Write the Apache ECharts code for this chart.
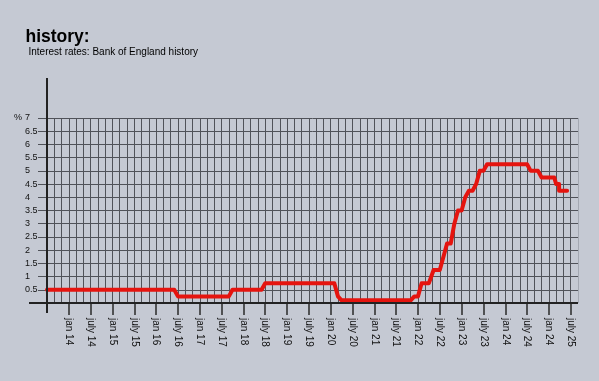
<!DOCTYPE html>
<html>
<head>
<meta charset="utf-8">
<script src="https://cdn.jsdelivr.net/npm/echarts@6/dist/echarts.min.js"></script>
<style>
html,body{margin:0;padding:0;background:#c5c9d3;}
#chart{width:599px;height:381px;}
</style>
</head>
<body>
<div id="chart"></div>
<script>
// Bank of England rate: dates where the plotted line bends, and the rate there (%)
const rateDates = ['2013-07-01','2016-06-01','2016-07-01','2017-09-01','2017-10-01','2018-06-01','2018-07-01',
  '2020-02-01','2020-03-01','2020-04-01','2021-11-01','2021-12-01','2022-01-01','2022-02-01','2022-04-01',
  '2022-05-10','2022-07-01','2022-08-01','2022-09-01','2022-10-01','2022-11-01','2022-12-01','2023-01-01',
  '2023-02-01','2023-03-01','2023-04-01','2023-05-01','2023-06-01','2023-07-01','2023-08-01','2024-07-01',
  '2024-08-01','2024-10-01','2024-11-01','2025-02-15','2025-03-01','2025-03-25','2025-03-25','2025-06-01'];
const rateValues = [0.5,0.5,0.25,0.25,0.5,0.5,0.75,
  0.75,0.25,0.1,0.1,0.25,0.25,0.75,0.75,
  1.25,1.25,1.75,2.25,2.25,3.0,3.5,3.5,
  4.0,4.25,4.25,4.5,5.0,5.0,5.25,5.25,
  5.0,5.0,4.75,4.75,4.5,4.5,4.25,4.25];

// x tick labels every six months starting jan 14 (as printed in the original)
const xTickLabels = ['jan 14','july 14','jan 15','july 15','jan 16','july 16','jan 17','july 17','jan 18','july 18',
  'jan 19','july 19','jan 20','july 20','jan 21','july 21','jan 22','july 22','jan 23','july 23','jan 24','july 24',
  'jan 24','july 25'];
const yTickLabels = ['0.5','1','1.5','2','2.5','3','3.5','4','4.5','5','5.5','6','6.5','7'];
const yUnit = '%';

const titleText = 'history:';
const subtitleText = 'Interest rates: Bank of England history';

// months since July 2013
function monthIndex(d) {
  const p = d.split('-').map(Number);
  return (p[0] - 2013) * 12 + (p[1] - 7) + (p[2] - 1) / 30;
}
const seriesData = rateDates.map((d, i) => [monthIndex(d), rateValues[i]]);
const xMax = 146; // Sept 2025
const tickVals = xTickLabels.map((_, i) => 6 * (i + 1));

const FONT = 'Liberation Sans, Arial, sans-serif';
const gridColor = '#505259';
const axisColor = '#222';
const vColors = [];
for (let v = 0; v <= xMax; v += 2) vColors.push(v === xMax ? '#a4a8b2' : gridColor);

const chart = echarts.init(document.getElementById('chart'), null, {renderer: 'canvas'});
chart.setOption({
  backgroundColor: '#c5c9d3',
  animation: false,
  title: [
    {text: titleText, left: 25.5, top: 28, padding: 0,
     textStyle: {fontFamily: FONT, fontSize: 17.5, fontWeight: 'bold', color: '#000'}},
    {text: subtitleText, left: 28.5, top: 47.5, padding: 0,
     textStyle: {fontFamily: FONT, fontSize: 10, fontWeight: 'normal', color: '#000'}}
  ],
  grid: {left: 47, right: 21, top: 118, bottom: 78, containLabel: false},
  xAxis: [
    {type: 'value', min: 0, max: xMax, interval: 2, position: 'bottom',
     axisLine: {show: false}, axisTick: {show: false}, axisLabel: {show: false},
     splitLine: {show: true, lineStyle: {color: vColors, width: 1}}},
    {type: 'value', min: 0, max: xMax, interval: 6, position: 'bottom',
     axisLine: {show: false},
     splitLine: {show: false},
     axisTick: {show: true, customValues: tickVals, length: 12, lineStyle: {color: '#2a2a2a', width: 1.5}},
     axisLabel: {show: true, customValues: tickVals, rotate: -90, margin: 15,
       fontFamily: FONT, fontSize: 10, color: '#111',
       formatter: v => xTickLabels[Math.round(v / 6) - 1] || ''}}
  ],
  yAxis: {
    type: 'value', min: 0, max: 7, interval: 0.5,
    axisLine: {show: false},
    axisTick: {show: true, length: 9, lineStyle: {color: gridColor, width: 1}},
    splitLine: {show: true, lineStyle: {color: gridColor, width: 1}},
    axisLabel: {show: true, align: 'left', margin: 22, fontFamily: FONT, fontSize: 9, color: '#111',
      formatter: v => yTickLabels[Math.round(v / 0.5) - 1] || ''}
  },
  series: [{
    type: 'line', xAxisIndex: 0, data: seriesData, showSymbol: false, symbol: 'none',
    lineStyle: {color: '#e5140f', width: 4, cap: 'round', join: 'round'}, z: 5
  }]
});

// axis cross lines (extend beyond the plot like the original) and the unit mark
const o = chart.convertToPixel({xAxisIndex: 0, yAxisIndex: 0}, [0, 0]);
const tr = chart.convertToPixel({xAxisIndex: 0, yAxisIndex: 0}, [xMax, 7]);
chart.setOption({
  graphic: [
    {type: 'line', shape: {x1: o[0], y1: tr[1] - 40, x2: o[0], y2: o[1] + 10}, style: {stroke: axisColor, lineWidth: 2}, z: 10},
    {type: 'line', shape: {x1: o[0] - 18, y1: o[1], x2: tr[0], y2: o[1]}, style: {stroke: axisColor, lineWidth: 2}, z: 10},
    {type: 'text', x: o[0] - 25, y: tr[1], z: 10,
     style: {text: yUnit, align: 'right', verticalAlign: 'middle', font: '9px ' + FONT, fill: '#111'}}
  ]
});
</script>
</body>
</html>
